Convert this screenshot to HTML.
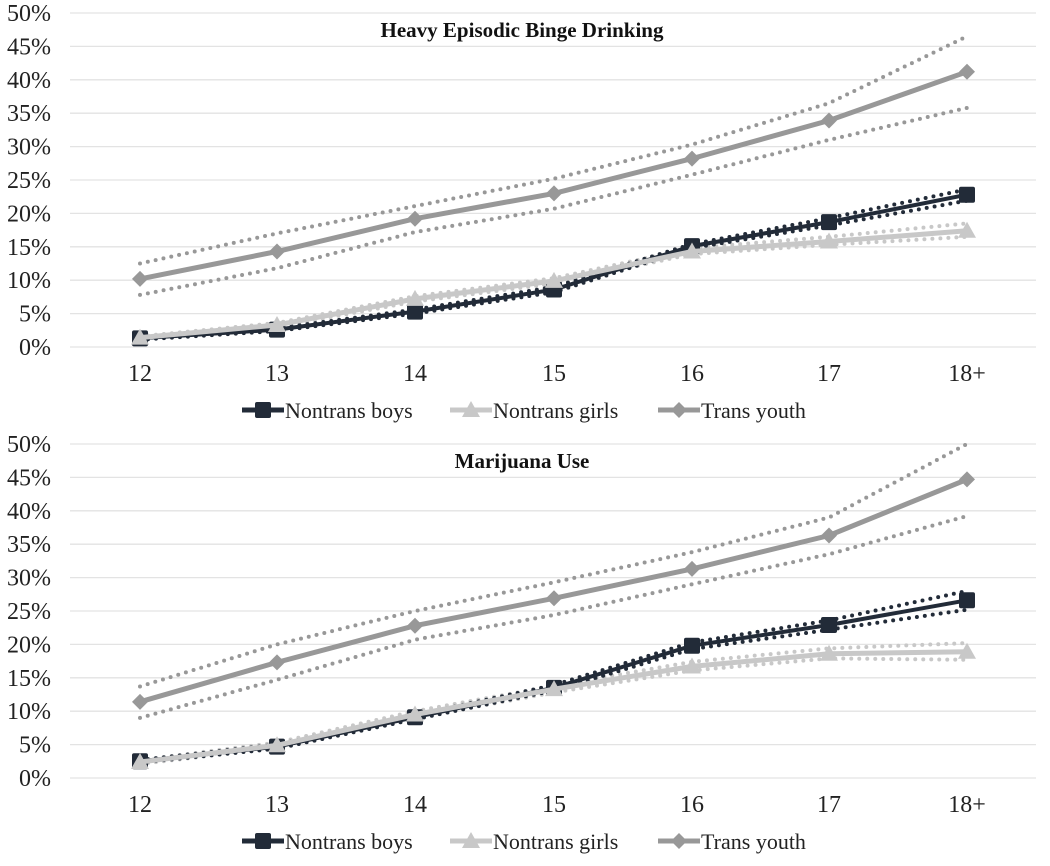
<!DOCTYPE html>
<html><head><meta charset="utf-8"><style>
body{margin:0;background:#fff}
svg{display:block}
text{font-family:"Liberation Serif","Times New Roman",serif}
</style></head><body>
<svg id="s" width="1050" height="866" viewBox="0 0 1050 866" xmlns="http://www.w3.org/2000/svg" font-family="Liberation Serif, serif"></svg>
<script>
const s=document.getElementById('s');
const xs=[140,277,415,554,692,829,967];
const labs=['12','13','14','15','16','17','18+'];
const F='font-family="Liberation Serif, serif"';
let h='';
function chart(off,title,d){
  const Y=v=>347+off-6.68*v;
  for(let i=0;i<=10;i++){const y=Y(i*5);h+=`<line x1="70" x2="1036" y1="${y}" y2="${y}" stroke="#e3e3e3" stroke-width="1.3"/>`;
    h+=`<text ${F} x="51" y="${y+8}" font-size="24" text-anchor="end" fill="#222">${i*5}%</text>`;}
  labs.forEach((l,i)=>h+=`<text ${F} x="${xs[i]}" y="${381+off}" font-size="24" text-anchor="middle" fill="#222">${l}</text>`);
  h+=`<text ${F} x="522" y="${37+off}" font-size="21" font-weight="bold" text-anchor="middle" fill="#111">${title}</text>`;
  const pl=a=>a.map((v,i)=>xs[i]+','+Y(v).toFixed(1)).join(' ');
  const ser=[['#989898',d.t,d.tu,d.tl,'dia'],['#c8c8c8',d.g,d.gu,d.gl,'tri'],['#222b38',d.b,d.bu,d.bl,'sq']];
  ser.forEach(([c,m,u,l])=>{[u,l].forEach(a=>h+=`<polyline points="${pl(a)}" fill="none" stroke="${c}" stroke-width="4" stroke-dasharray="0 8" stroke-linecap="round"/>`);});
  ser.slice().reverse().forEach(([c,m,u,l,mk])=>{
    h+=`<polyline points="${pl(m)}" fill="none" stroke="${c}" stroke-width="${mk=='sq'?4:5}"/>`;
    m.forEach((v,i)=>h+=marker(mk,xs[i],Y(v),c));
  });
  const ly=410+off;
  [['#222b38','sq',242,'Nontrans boys'],['#c8c8c8','tri',450,'Nontrans girls'],['#989898','dia',658,'Trans youth']].forEach(([c,mk,x,t])=>{
    h+=`<line x1="${x}" x2="${x+42}" y1="${ly}" y2="${ly}" stroke="${c}" stroke-width="5"/>`+marker(mk,x+21,ly,c);
    h+=`<text ${F} x="${x+43}" y="${ly+8}" font-size="22" fill="#222">${t}</text>`;});
}
function marker(mk,x,y,c){
  if(mk=='sq')return `<rect x="${x-8}" y="${y-8}" width="16" height="16" rx="2" fill="${c}"/>`;
  if(mk=='tri')return `<polygon points="${x},${y-9} ${x+9},${y+7} ${x-9},${y+7}" fill="${c}"/>`;
  return `<polygon points="${x},${y-8} ${x+8},${y} ${x},${y+8} ${x-8},${y}" fill="${c}"/>`;
}
chart(0,'Heavy Episodic Binge Drinking',{
 t:[10.2,14.3,19.2,23.0,28.2,33.9,41.2],tu:[12.5,17,21.1,25.2,30.3,36.5,46.5],tl:[7.8,11.8,17.2,20.7,25.8,31,35.8],
 b:[1.3,2.6,5.3,8.6,15.1,18.7,22.8],bu:[1.5,2.8,5.6,9.0,15.4,19.3,23.6],bl:[1.1,2.4,5.0,8.2,14.8,18.2,21.9],
 g:[1.4,3.3,7.2,9.9,14.3,15.8,17.4],gu:[1.6,3.6,7.6,10.3,14.8,16.5,18.5],gl:[1.2,3,6.8,9.5,13.9,15.3,16.5]});
chart(431,'Marijuana Use',{
 t:[11.4,17.3,22.8,26.9,31.3,36.3,44.7],tu:[13.7,20,25,29.3,33.8,39,50],tl:[9,14.7,20.7,24.4,29,33.5,39.2],
 b:[2.5,4.7,9.1,13.5,19.8,22.9,26.6],bu:[2.7,5.0,9.4,13.9,20.3,23.6,28],bl:[2.3,4.4,8.8,13.1,19.3,22.2,25.2],
 g:[2.4,4.9,9.5,13.3,16.7,18.6,18.9],gu:[2.7,5.3,10,13.8,17.4,19.4,20.2],gl:[2.1,4.5,9,12.8,16.1,17.9,17.7]});
s.innerHTML=h;
</script>
</body></html>
